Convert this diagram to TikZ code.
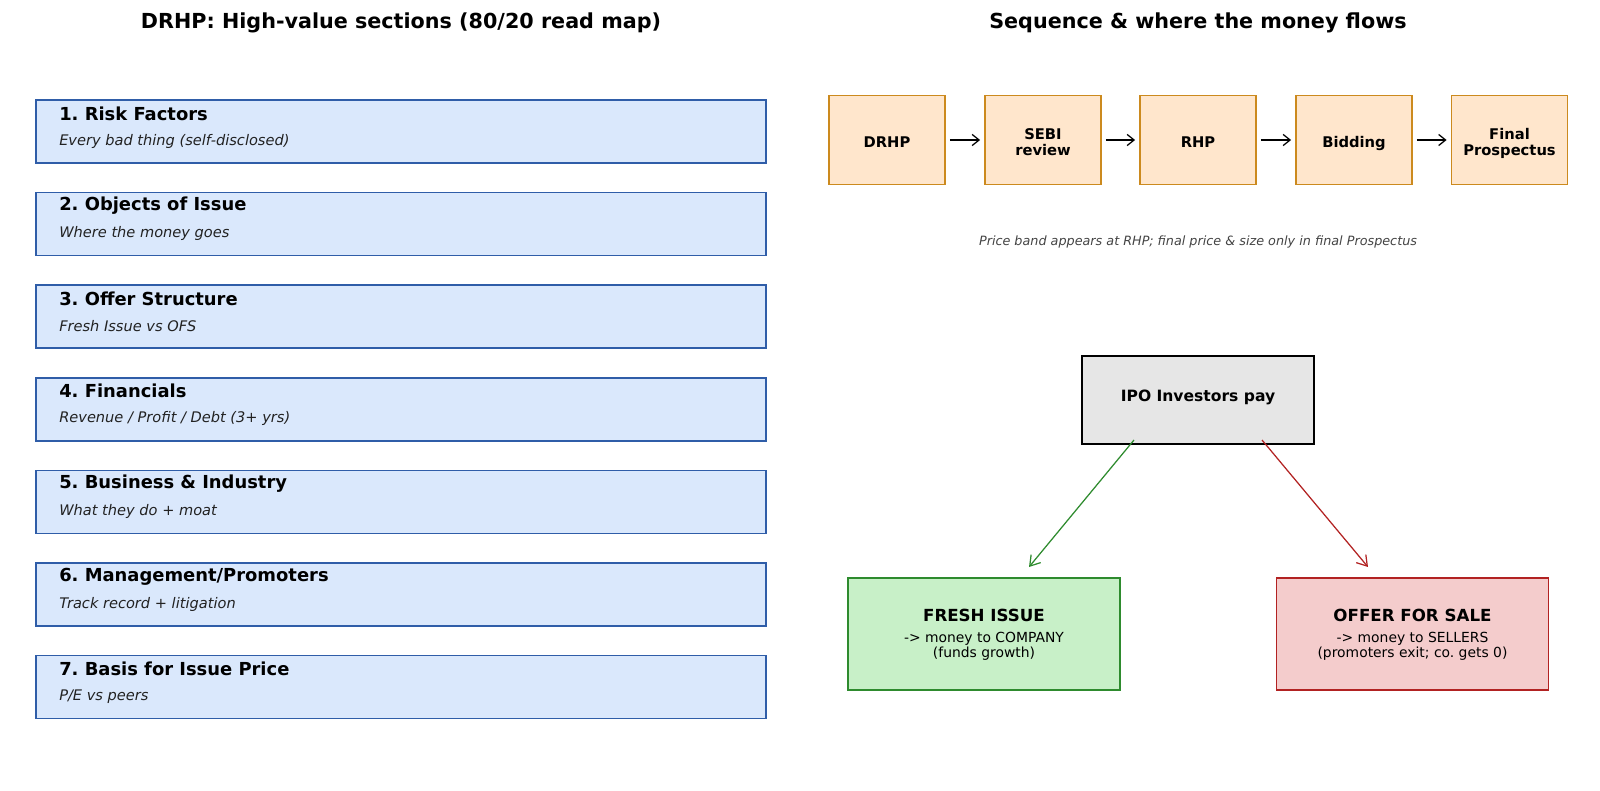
\documentclass[tikz,border=0pt]{standalone}
\usepackage{fontspec}
\setmainfont{DejaVu Sans}
\usetikzlibrary{arrows.meta}
\definecolor{secfill}{HTML}{DAE8FC}
\definecolor{secdraw}{HTML}{2F5DA8}
\definecolor{flowfill}{HTML}{FFE6CC}
\definecolor{flowdraw}{HTML}{CC8A1E}
\definecolor{ipofill}{HTML}{E6E6E6}
\definecolor{frfill}{HTML}{C8F0C8}
\definecolor{frdraw}{HTML}{2E8B2E}
\definecolor{ofsfill}{HTML}{F4CCCC}
\definecolor{ofsdraw}{HTML}{B22222}
\definecolor{captxt}{HTML}{444444}
\definecolor{subtxt}{HTML}{222222}
\frenchspacing
\newcommand\mytopstrut{\rule{0pt}{1.25em}}
\newcommand\mybotstrut{\rule[-0.24em]{0pt}{0.24em}}
\tikzset{
  secbox/.style={draw=secdraw, fill=secfill, line width=1.1pt, minimum width=730*0.72pt, minimum height=63*0.72pt, inner sep=0pt},
  sectitle/.style={anchor=west, inner sep=0pt, font=\fontsize{12.9}{15}\selectfont\bfseries},
  secsub/.style={anchor=west, inner sep=0pt, text=subtxt, font=\fontsize{10.5}{12}\selectfont\itshape},
  flowbox/.style={draw=flowdraw, fill=flowfill, line width=1.1pt, minimum width=116*0.72pt, minimum height=89*0.72pt, inner sep=0pt, align=center, font=\fontsize{10.6}{11.8}\selectfont\bfseries},
  oneline/.style={text height=1.25em, text depth=0.24em},
  flowarrow/.style={-{Straight Barb[length=5pt,width=8pt]}, line width=0.9pt, shorten <=3pt, shorten >=3pt},
  bigtitle/.style={font=\fontsize{14.9}{17}\selectfont\bfseries, inner sep=0pt},
  moneybox/.style={line width=1.1pt, minimum width=272*0.72pt, minimum height=112*0.72pt, inner sep=0pt, align=center, font=\fontsize{10}{11.5}\selectfont},
}
\begin{document}
\begin{tikzpicture}[x=0.72pt,y=-0.72pt]
\useasboundingbox (0,0) rectangle (1600,791);
\node[bigtitle] (lt) at (401,22.5) {DRHP: High-value sections (80/20 read map)};
\node[bigtitle] (rt) at (1198,22.5) {Sequence \& where the money flows};
\foreach \i/\t/\s in {1/{1. Risk Factors}/{Every bad thing (self-disclosed)},
  2/{2. Objects of Issue}/{Where the money goes},
  3/{3. Offer Structure}/{Fresh Issue vs OFS},
  4/{4. Financials}/{Revenue / Profit / Debt (3+ yrs)},
  5/{5. Business \& Industry}/{What they do + moat},
  6/{6. Management/Promoters}/{Track record + litigation},
  7/{7. Basis for Issue Price}/{P/E vs peers}}{
  \pgfmathsetmacro{\yc}{131.5+92.6*(\i-1)}
  \node[secbox] (sec\i) at (401,\yc) {};
  \node[sectitle] (sect\i) at (59,\yc-18) {\t};
  \node[secsub] (secs\i) at (59,\yc+9.5) {\s};
}
\node[flowbox, oneline] (f1) at (887,140) {DRHP};
\node[flowbox] (f2) at (1043,140) {\mytopstrut SEBI\\review\mybotstrut};
\node[flowbox, oneline] (f3) at (1198,140) {RHP};
\node[flowbox, oneline] (f4) at (1354,140) {Bidding};
\node[flowbox] (f5) at (1509.5,140) {\mytopstrut Final\\Prospectus\mybotstrut};
\foreach \a/\b in {f1/f2,f2/f3,f3/f4,f4/f5}{\draw[flowarrow] (\a) -- (\b);}
\node[inner sep=0pt, text=captxt, font=\fontsize{9.2}{11}\selectfont\itshape] (cap) at (1198,241.5) {Price band appears at RHP; final price \& size only in final Prospectus};
\node[draw=black, fill=ipofill, line width=1.2pt, minimum width=232*0.72pt, minimum height=88*0.72pt, inner sep=0pt] (ipo) at (1198,400) {};
\node[inner sep=0pt, font=\fontsize{11.2}{13}\selectfont\bfseries] (ipot) at (1198,397.5) {IPO Investors pay};
\node[moneybox, draw=frdraw, fill=frfill] (fresh) at (984,634) {};
\node[inner sep=0pt, font=\fontsize{12}{14}\selectfont\bfseries] (frt) at (984,615) {FRESH ISSUE};
\node[inner sep=0pt, align=center, font=\fontsize{10}{11.2}\selectfont] (frs) at (984,646.5) {-> money to COMPANY\\(funds growth)};
\node[moneybox, draw=ofsdraw, fill=ofsfill] (ofs) at (1412.5,634) {};
\node[inner sep=0pt, font=\fontsize{12}{14}\selectfont\bfseries] (oft) at (1412.5,615) {OFFER FOR SALE};
\node[inner sep=0pt, align=center, font=\fontsize{10}{11.2}\selectfont] (ofs2) at (1412.5,646.5) {-> money to SELLERS\\(promoters exit; co. gets 0)};
\coordinate (g1) at (1134,440);
\coordinate (g2) at (1029,567);
\coordinate (r1) at (1262,440);
\coordinate (r2) at (1368,567);
\draw[-{Straight Barb[length=7pt,width=9pt]}, draw=frdraw, line width=0.9pt] (g1) -- (g2);
\draw[-{Straight Barb[length=7pt,width=9pt]}, draw=ofsdraw, line width=0.9pt] (r1) -- (r2);
\end{tikzpicture}
\end{document}
